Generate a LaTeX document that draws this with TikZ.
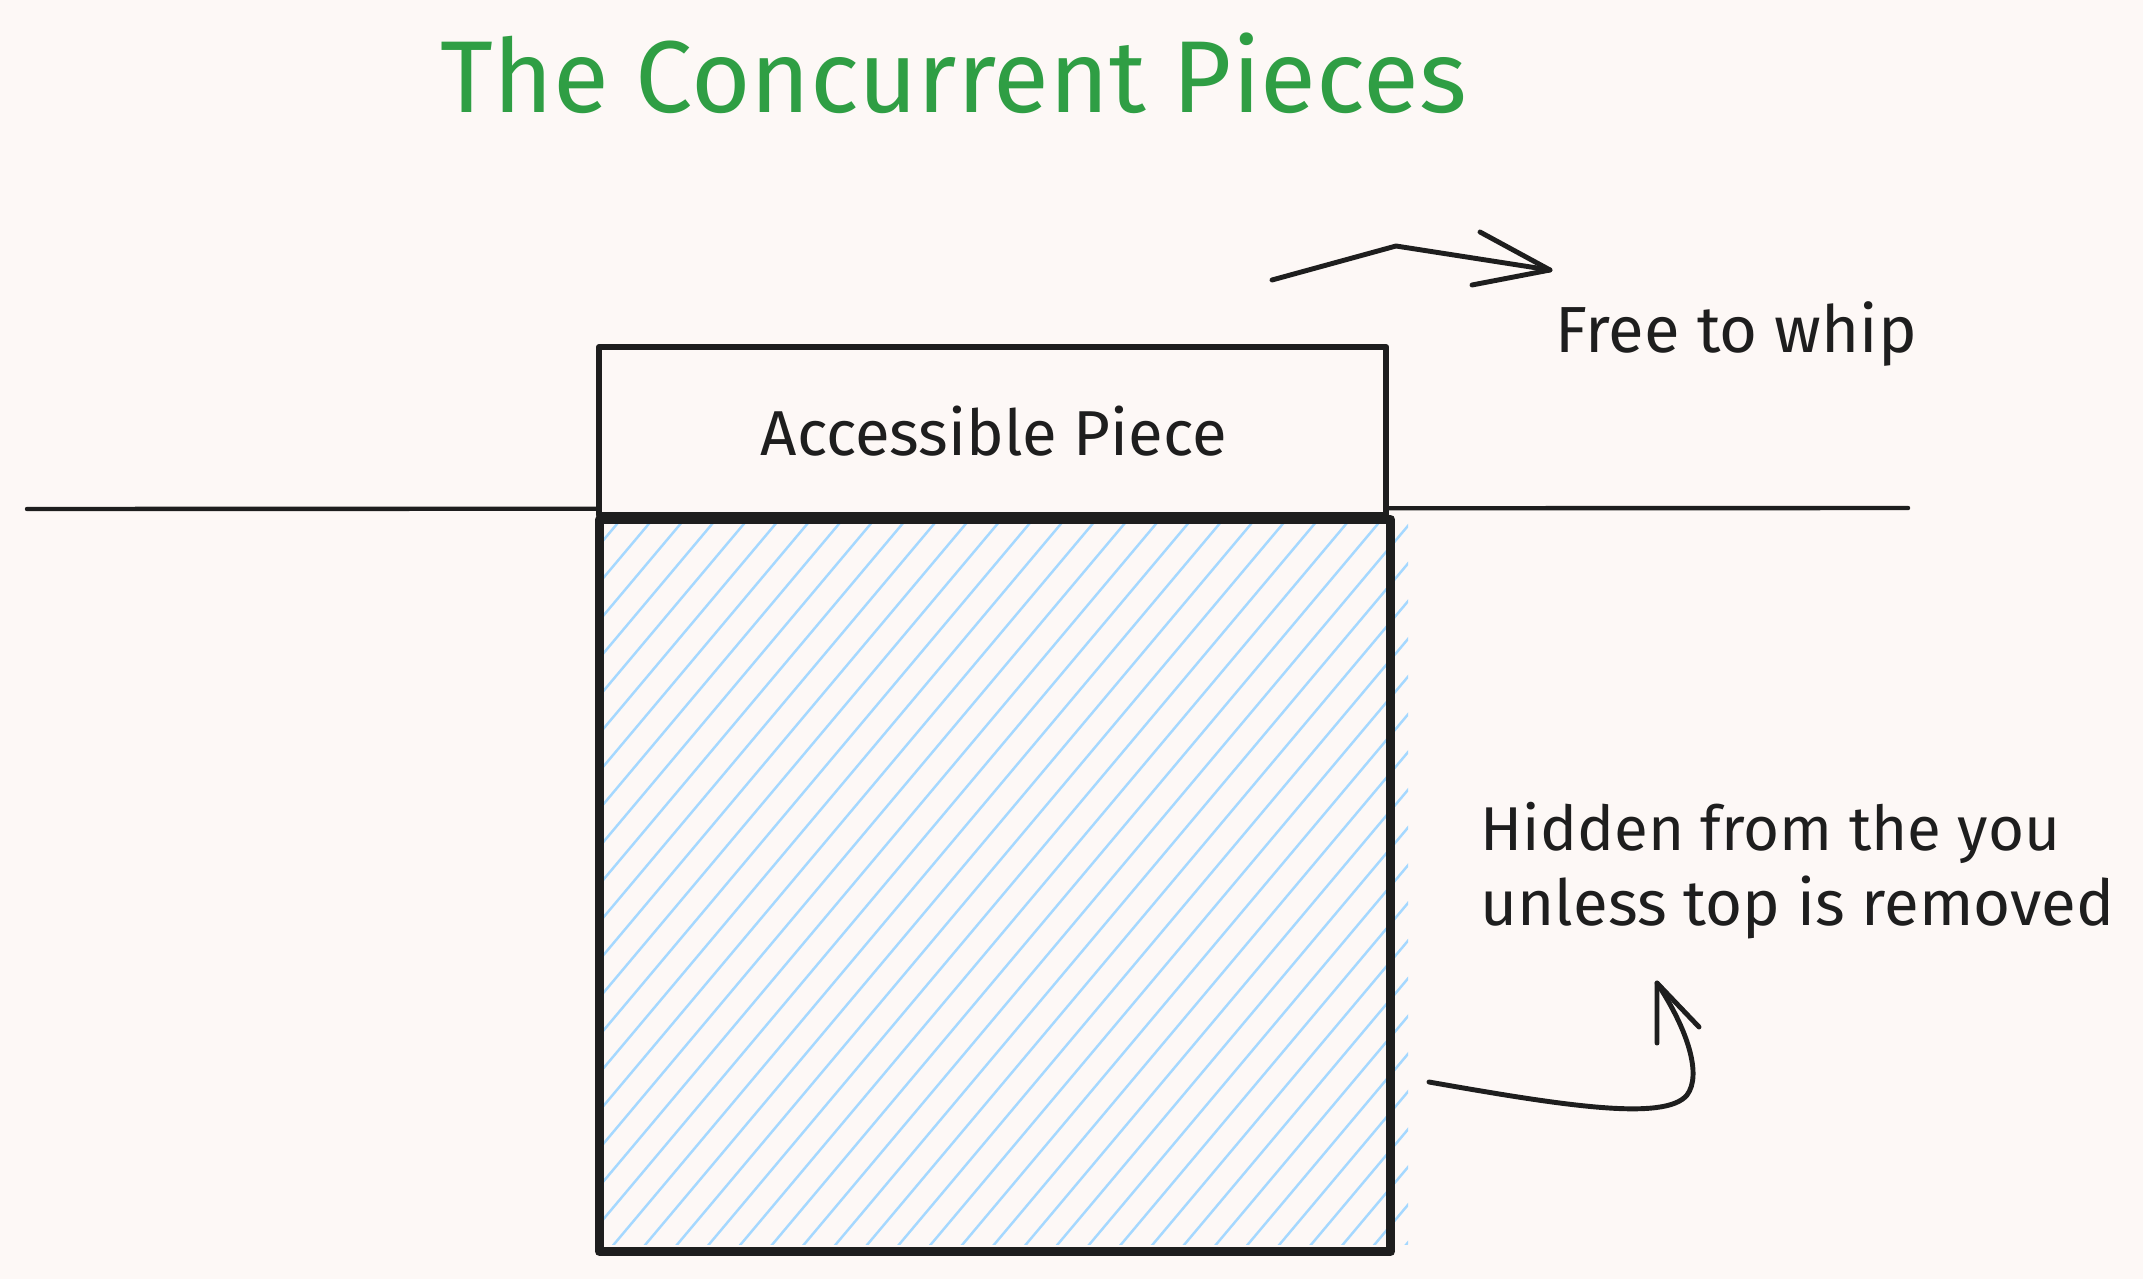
\documentclass[tikz,border=0pt]{standalone}
\usepackage{fontspec}
\setmainfont{Fira Sans}
\usepackage{graphicx}
\definecolor{paper}{HTML}{FDF8F6}
\definecolor{inkc}{HTML}{1E1E1E}
\definecolor{titlegreen}{HTML}{2F9E44}
\definecolor{hatchblue}{HTML}{A5D8FF}
\newcommand{\fitto}[2]{\resizebox{#1}{!}{#2}}
\tikzset{
  ink/.style={draw=inkc, line cap=round, line join=round},
  piecebox/.style={ink, line width=1.75pt},
  hiddenbox/.style={ink, line width=2.6pt},
  groundline/.style={ink, line width=1.25pt},
  pointer/.style={ink, line width=1.4pt},
  hatchline/.style={draw=hatchblue, line width=0.7pt, line cap=round},
  txt/.style={inner sep=0pt, anchor=base west, text=inkc},
}
\begin{document}
\begin{tikzpicture}[x=0.01cm, y=-0.01cm]
  % canvas
  \fill[paper] (0,0) rectangle (2143,1279);
  \useasboundingbox (0,0) rectangle (2143,1279);

  % title
  \node[txt, text=titlegreen] (title) at (440,113) {\fitto{10.25cm}{The Concurrent Pieces}};

  % hachure fill of the hidden piece
  \begin{scope}
    \clip (595,515) rectangle (1408,1244);
    \foreach \k in {-10,...,37} {
      \draw[hatchline] ({1310.9+31.7*\k-1250/1.19},1250) -- ({1310.9+31.7*\k-510/1.19},510);
    }
  \end{scope}

  % ground line
  \coordinate (gl) at (27,509);
  \coordinate (gr) at (1908,508);
  \draw[groundline] (gl) -- (gr);

  % accessible piece
  \node[piecebox, fill=paper, minimum width=787*0.01cm, minimum height=168*0.01cm,
        inner sep=0pt, anchor=north west] (top) at (596,344) {};
  \node[txt] (toplabel) at (760,455) {\fitto{4.66cm}{Accessible Piece}};

  % hidden piece
  \node[hiddenbox, minimum width=791*0.01cm, minimum height=732*0.01cm,
        inner sep=0pt, anchor=north west] (hidden) at (595,515) {};

  % free-to-whip pointer
  \coordinate (fa) at (1272,280);
  \coordinate (fb) at (1396,246);
  \coordinate (ftip) at (1550,270);
  \coordinate (farm1) at (1480,232);
  \coordinate (farm2) at (1472,285);
  \draw[pointer] (fa) -- (fb) -- (ftip);
  \draw[pointer] (farm1) -- (ftip) -- (farm2);
  \node[txt] (free) at (1555,353) {\fitto{3.61cm}{Free to whip}};

  % hidden note and its pointer
  \node[txt] (note1) at (1480,850) {\fitto{5.79cm}{Hidden from the you}};
  \node[txt] (note2) at (1480,925) {\fitto{6.33cm}{unless top is removed}};
  \coordinate (ha) at (1429,1082);
  \coordinate (htip) at (1657,983);
  \coordinate (harm1) at (1657,1043);
  \coordinate (harm2) at (1699,1027);
  \draw[pointer] (ha) .. controls (1560,1105) and (1665,1122) .. (1687,1095)
                      .. controls (1702,1075) and (1688,1030) .. (htip);
  \draw[pointer] (harm1) -- (htip) -- (harm2);
\end{tikzpicture}
\end{document}
